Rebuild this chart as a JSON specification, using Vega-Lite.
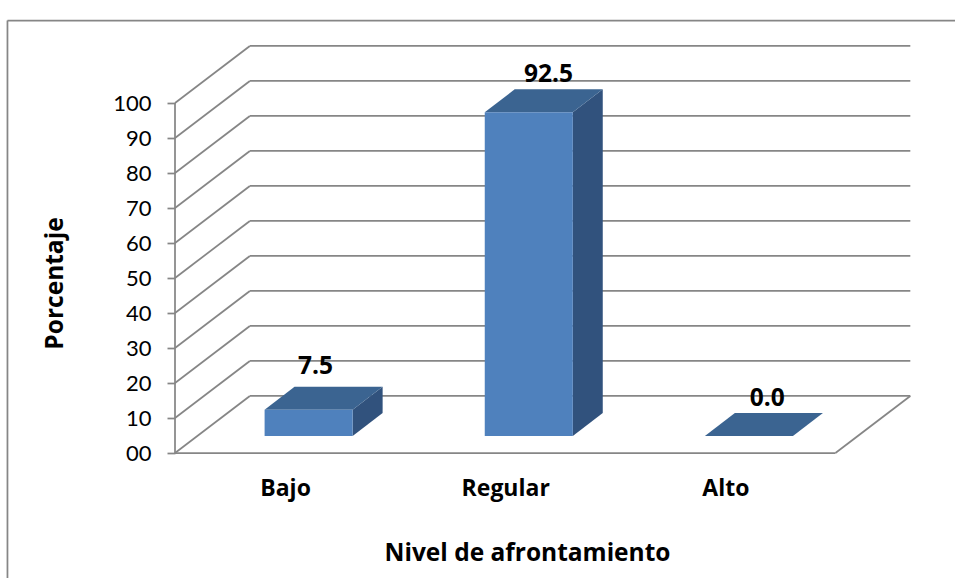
{
  "$schema": "https://vega.github.io/schema/vega-lite/v6.json",
  "width": 780,
  "height": 453,
  "autosize": {"type": "none"},
  "padding": {"left": 175, "top": 0, "right": 0, "bottom": 125},
  "background": "white",
  "config": {"view": {"stroke": null}, "font": "Lato"},
  "datasets": {
    "barras": [
      {"nivel": "Bajo", "porcentaje": 7.5},
      {"nivel": "Regular", "porcentaje": 92.5},
      {"nivel": "Alto", "porcentaje": 0.0}
    ],
    "marcas": [
      {"marca": 0}, {"marca": 10}, {"marca": 20}, {"marca": 30}, {"marca": 40}, {"marca": 50},
      {"marca": 60}, {"marca": 70}, {"marca": 80}, {"marca": 90}, {"marca": 100}
    ],
    "trazos": [
      {"trazo": "marco izquierdo"},
      {"trazo": "marco superior"},
      {"trazo": "eje vertical"},
      {"trazo": "suelo frontal"},
      {"trazo": "suelo derecho"}
    ]
  },
  "encoding": {
    "x": {
      "field": "px",
      "type": "quantitative",
      "scale": {"domain": [0, 3.543], "nice": false, "zero": false},
      "axis": {
        "title": "Nivel de afrontamiento",
        "titleX": 352,
        "titleY": 100,
        "titleFont": "Open Sans",
        "titleFontSize": 24.5,
        "titleFontWeight": "bold",
        "titleColor": "black",
        "titleBaseline": "middle",
        "values": [0.5, 1.5, 2.5],
        "labelExpr": "['Bajo','Regular','Alto'][floor(datum.value)]",
        "labelFont": "Open Sans",
        "labelFontSize": 23,
        "labelFontWeight": "bold",
        "labelColor": "black",
        "labelPadding": 24,
        "ticks": false,
        "domain": false,
        "grid": false
      }
    },
    "y": {
      "field": "py",
      "type": "quantitative",
      "stack": null,
      "scale": {"domain": [0, 129.43], "nice": false, "zero": false},
      "axis": {
        "title": "Porcentaje",
        "titleX": -120,
        "titleY": 283,
        "titleAngle": 270,
        "titleFont": "Open Sans",
        "titleFontSize": 24.5,
        "titleFontWeight": "bold",
        "titleColor": "black",
        "titleBaseline": "middle",
        "values": [0, 10, 20, 30, 40, 50, 60, 70, 80, 90, 100],
        "labelExpr": "datum.value === 0 ? '00' : datum.label",
        "labelFontSize": 22,
        "labelColor": "black",
        "labelPadding": 16,
        "tickSize": 8,
        "tickColor": "#868686",
        "tickWidth": 1.75,
        "domain": false,
        "grid": false
      }
    }
  },
  "layer": [
    {
      "description": "frame of the chart area, the front axis line and the floor edges",
      "data": {"name": "trazos"},
      "transform": [
        {"calculate": "{'marco izquierdo': -0.761, 'marco superior': -0.761, 'eje vertical': 0, 'suelo frontal': 0, 'suelo derecho': 3}[datum.trazo]", "as": "px"},
        {"calculate": "{'marco izquierdo': -0.761, 'marco superior': 3.543, 'eje vertical': 0, 'suelo frontal': 3, 'suelo derecho': 3.34}[datum.trazo]", "as": "px2"},
        {"calculate": "{'marco izquierdo': 123.57, 'marco superior': 123.57, 'eje vertical': 0, 'suelo frontal': 0, 'suelo derecho': 0}[datum.trazo]", "as": "py"},
        {"calculate": "{'marco izquierdo': -35.7, 'marco superior': 123.57, 'eje vertical': 100, 'suelo frontal': 0, 'suelo derecho': 16.3}[datum.trazo]", "as": "py2"}
      ],
      "mark": {"type": "rule", "color": "#868686", "strokeWidth": 1.75},
      "encoding": {"x2": {"field": "px2"}, "y2": {"field": "py2"}}
    },
    {
      "description": "back wall gridlines",
      "data": {"name": "marcas"},
      "transform": [
        {"calculate": "0.34", "as": "px"},
        {"calculate": "3.34", "as": "px2"},
        {"calculate": "datum.marca + 16.3", "as": "py"},
        {"calculate": "datum.marca + 16.3", "as": "py2"}
      ],
      "mark": {"type": "rule", "color": "#868686", "strokeWidth": 1.75},
      "encoding": {"x2": {"field": "px2"}, "y2": {"field": "py2"}}
    },
    {
      "description": "side wall gridlines running from the front axis to the back wall",
      "data": {"name": "marcas"},
      "transform": [
        {"calculate": "0", "as": "px"},
        {"calculate": "0.34", "as": "px2"},
        {"calculate": "datum.marca", "as": "py"},
        {"calculate": "datum.marca + 16.3", "as": "py2"}
      ],
      "mark": {"type": "rule", "color": "#868686", "strokeWidth": 1.75},
      "encoding": {"x2": {"field": "px2"}, "y2": {"field": "py2"}}
    },
    {
      "description": "bar side faces",
      "data": {"name": "barras"},
      "transform": [
        {"calculate": "indexof(['Bajo','Regular','Alto'], datum.nivel)", "as": "orden"},
        {"calculate": "[0.3, 0.7]", "as": "z"},
        {"flatten": ["z"]},
        {"calculate": "datum.orden + 0.705 + datum.z * 0.34", "as": "px"},
        {"calculate": "datum.z * 16.3 + datum.porcentaje", "as": "py"},
        {"calculate": "datum.z * 16.3", "as": "py2"}
      ],
      "mark": {"type": "area", "color": "#31527d"},
      "encoding": {"y2": {"field": "py2"}, "detail": {"field": "nivel"}}
    },
    {
      "description": "bar top faces",
      "data": {"name": "barras"},
      "transform": [
        {"calculate": "indexof(['Bajo','Regular','Alto'], datum.nivel)", "as": "orden"},
        {"calculate": "[0.3, 0.7]", "as": "z"},
        {"flatten": ["z"]},
        {"calculate": "datum.orden + 0.305 + datum.z * 0.34", "as": "px"},
        {"calculate": "datum.orden + 0.705 + datum.z * 0.34", "as": "px2"},
        {"calculate": "datum.z * 16.3 + datum.porcentaje", "as": "py"}
      ],
      "mark": {"type": "area", "orient": "horizontal", "color": "#3b6491"},
      "encoding": {"x2": {"field": "px2"}, "detail": {"field": "nivel"}}
    },
    {
      "description": "bar front faces",
      "data": {"name": "barras"},
      "transform": [
        {"calculate": "indexof(['Bajo','Regular','Alto'], datum.nivel)", "as": "orden"},
        {"calculate": "datum.orden + 0.305 + 0.3 * 0.34", "as": "px"},
        {"calculate": "datum.orden + 0.705 + 0.3 * 0.34", "as": "px2"},
        {"calculate": "0.3 * 16.3 + datum.porcentaje", "as": "py"},
        {"calculate": "0.3 * 16.3", "as": "py2"}
      ],
      "mark": {"type": "rect", "color": "#4f81bd"},
      "encoding": {"x2": {"field": "px2"}, "y2": {"field": "py2"}}
    },
    {
      "description": "value labels, each nudged to its spot above the bar",
      "data": {"name": "barras"},
      "transform": [
        {"calculate": "indexof(['Bajo','Regular','Alto'], datum.nivel)", "as": "orden"},
        {"calculate": "datum.orden + 0.5 + {'Bajo': 0.138, 'Regular': 0.196, 'Alto': 0.19}[datum.nivel]", "as": "px"},
        {"calculate": "datum.porcentaje + 11.43 + {'Bajo': 5.7, 'Regular': 4, 'Alto': 4}[datum.nivel]", "as": "py"},
        {"calculate": "format(datum.porcentaje, '.1f')", "as": "etiqueta"}
      ],
      "mark": {"type": "text", "font": "Open Sans", "fontSize": 24.5, "fontWeight": "bold", "color": "black", "baseline": "middle", "align": "center"},
      "encoding": {"text": {"field": "etiqueta", "type": "nominal"}}
    }
  ]
}
